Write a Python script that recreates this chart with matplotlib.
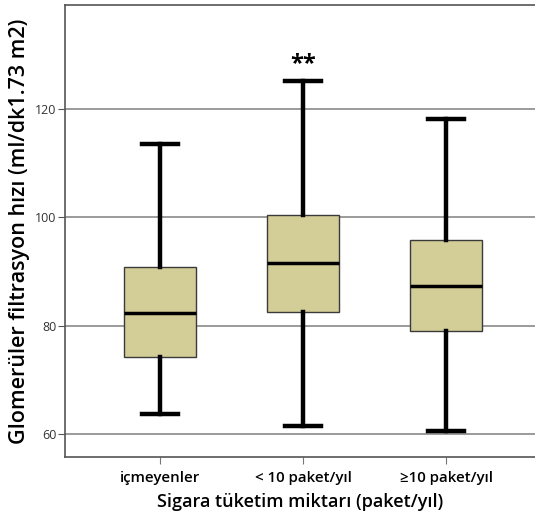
import matplotlib
matplotlib.use("Agg")
import matplotlib.pyplot as plt

# values
categories = ["içmeyenler", "< 10 paket/yıl", "≥10 paket/yıl"]
whisker_low = [63.8, 61.6, 60.5]
q1 = [74.2, 82.6, 79.1]
median = [82.4, 91.6, 87.4]
q3 = [90.8, 100.4, 95.8]
whisker_high = [113.4, 125.1, 118.1]
yticks = [60, 80, 100, 120]
star_group = 2
star_y = 128.2

plt.rcParams['font.family'] = ['Open Sans', 'DejaVu Sans']

fig = plt.figure(figsize=(5.35, 5.21), dpi=100)
ax = fig.add_axes([65 / 535, (521 - 457) / 521, (535 - 65) / 535, (457 - 5) / 521])

stats = []
for i, name in enumerate(categories):
    stats.append({
        'label': name,
        'whislo': whisker_low[i],
        'q1': q1[i],
        'med': median[i],
        'q3': q3[i],
        'whishi': whisker_high[i],
        'fliers': [],
    })

ax.bxp(stats, positions=[1, 2, 3], widths=0.5, patch_artist=True, showfliers=False,
       boxprops=dict(facecolor='#d3ce97', edgecolor='#3a3a3a', linewidth=1.0),
       medianprops=dict(color='black', linewidth=2.5),
       whiskerprops=dict(color='black', linewidth=3.2),
       capprops=dict(color='black', linewidth=3.2),
       capwidths=0.25, zorder=3)

ax.set_xlim(0.336, 3.62)
ax.set_ylim(55.8, 139.1)
ax.set_yticks(yticks)
ax.yaxis.grid(True, color='#8a8a8a', linewidth=1.2)
ax.set_axisbelow(True)

ax.text(star_group, star_y, "**", ha='center', va='center', fontsize=17, fontweight='bold')

for side in ['left', 'top', 'bottom']:
    ax.spines[side].set_color('#555555')
    ax.spines[side].set_linewidth(1.2)
ax.spines['right'].set_visible(False)

ax.tick_params(axis='y', length=5, color='#555555', labelsize=9, labelcolor='#333333', pad=1)
ax.tick_params(axis='x', length=5, color='#777777', labelsize=10.8, pad=5)
for lbl in ax.get_xticklabels():
    lbl.set_fontweight('semibold')

ax.set_xlabel("Sigara tüketim miktarı (paket/yıl)", fontsize=13, fontweight='semibold', labelpad=6)
ax.set_ylabel("Glomerüler filtrasyon hızı (ml/dk1.73 m2)", fontsize=15.5, fontweight='semibold', labelpad=4)

fig.savefig("out.png", dpi=100)
